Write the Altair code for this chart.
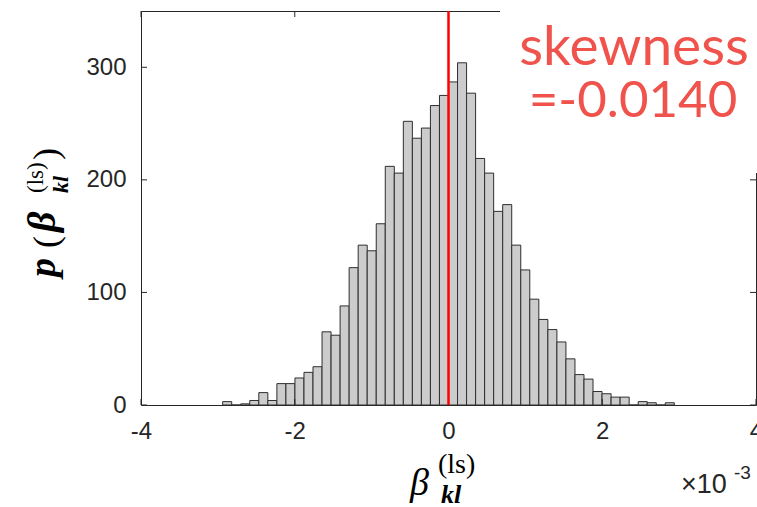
import altair as alt
import pandas as pd

# ---- data (x in units of 1e-3) ----
counts = [3, 0, 1, 4, 11, 4, 19, 19, 24, 29, 34, 65, 62, 88, 122, 142, 137, 161, 212, 206,
          252, 237, 246, 266, 275, 287, 304, 277, 219, 206, 172, 178, 142, 120, 94, 76, 67,
          56, 41, 27, 23, 12, 10, 7, 7, 0, 3, 2, 0, 2]
bin_width = 0.1175
first_edge = -2.9375
x_ticks = [-4, -2, 0, 2, 4]
y_ticks = [0, 100, 200, 300]
x_domain = [-4, 4]
y_domain = [0, 350]
marker_x = [0]
skew_lines = ["skewness", "=-0.0140"]

W, H = 615, 394
AX = "#262626"
RED_TXT = "#F0524C"

starts = [first_edge + i * bin_width for i in range(len(counts))]
bars_df = pd.DataFrame({"start": starts,
                        "end": [s + bin_width for s in starts],
                        "count": counts,
                        "base": [0] * len(counts)})

xs = alt.Scale(domain=x_domain, nice=False, zero=False)
ys = alt.Scale(domain=y_domain, nice=False)

lab = dict(labelFont="Liberation Sans", labelFontSize=24, labelColor=AX,
           domain=False, ticks=False, grid=False, title=None)
xaxis = alt.Axis(values=x_ticks, labelFlush=False, labelPadding=14,
                 labelExpr="datum.value + ''", **lab)
yaxis = alt.Axis(values=y_ticks, labelPadding=15, labelExpr="datum.value + ''", **lab)

bars = alt.Chart(bars_df).mark_bar(fill="#CCCCCC", stroke="#2E2E2E", strokeWidth=1).encode(
    x=alt.X("start:Q", scale=xs, axis=xaxis),
    x2="end:Q",
    y=alt.Y("count:Q", scale=ys, axis=yaxis),
    y2="base:Q",
)

ydf = pd.DataFrame({"v": y_ticks})
xdf = pd.DataFrame({"v": x_ticks})
tl = 6
ytick_l = alt.Chart(ydf).mark_rule(color=AX).encode(
    y=alt.Y("v:Q", scale=ys, axis=yaxis), x=alt.value(0), x2=alt.value(tl))
ytick_r = alt.Chart(ydf).mark_rule(color=AX).encode(
    y=alt.Y("v:Q", scale=ys, axis=yaxis), x=alt.value(W - tl), x2=alt.value(W))
xtick_b = alt.Chart(xdf).mark_rule(color=AX).encode(
    x=alt.X("v:Q", scale=xs, axis=xaxis), y=alt.value(H), y2=alt.value(H - tl))
xtick_t = alt.Chart(xdf).mark_rule(color=AX).encode(
    x=alt.X("v:Q", scale=xs, axis=xaxis), y=alt.value(0), y2=alt.value(tl))

red = alt.Chart(pd.DataFrame({"v": marker_x})).mark_rule(color="#FF0000", strokeWidth=2.5).encode(
    x=alt.X("v:Q", scale=xs, axis=xaxis), y=alt.value(0), y2=alt.value(H))

cover = alt.Chart(pd.DataFrame({"a": [1]})).mark_rect(color="white").encode(
    x=alt.value(359), x2=alt.value(W + 5), y=alt.value(-15), y2=alt.value(162))


def txt(s, x, y, size, font="Liberation Serif", style="normal", weight="normal",
        color="#000000", angle=0, align="left", baseline="alphabetic"):
    kw = dict(font=font, fontSize=size, fontStyle=style, fontWeight=weight,
              color=color, align=align, baseline=baseline)
    if angle:
        kw["angle"] = angle
    return alt.Chart(pd.DataFrame({"t": [s]})).mark_text(**kw).encode(
        text="t:N", x=alt.value(x), y=alt.value(y))


texts = [
    txt(skew_lines[0], 493, 54, 55, font="Lato", color=RED_TXT, align="center"),
    txt(skew_lines[1], 492, 106, 51, font="Lato", color=RED_TXT, align="center"),
    # x label
    txt("β", 269, 484, 38, style="italic"),
    txt("(ls)", 297, 462, 28),
    txt("kl", 300, 492, 26, style="italic", weight="bold"),
    # x multiplier
    txt("×10", 540, 482, 27, font="Liberation Sans", color=AX),
    txt("-3", 593, 468, 19, font="Liberation Sans", color=AX),
    # y label (rotated)
    txt("p", -86, 266, 38, style="italic", weight="bold", angle=270),
    txt("(", -83, 237, 36, angle=270),
    txt("β", -86, 221, 40, style="italic", weight="bold", angle=270),
    txt("(ls)", -98, 182, 23, angle=270),
    txt("kl", -73, 182, 22, style="italic", weight="bold", angle=270),
    txt(")", -83, 149, 36, angle=270),
]

chart = alt.layer(bars, ytick_l, ytick_r, xtick_b, xtick_t, red, cover, *texts).properties(
    width=W, height=H,
    autosize=alt.AutoSizeParams(type="none"),
    padding={"left": 141, "top": 11, "right": 1, "bottom": 102},
).configure_view(stroke=AX, strokeWidth=1)

chart.save("out.html", embed_options={"renderer": "svg", "actions": False})
